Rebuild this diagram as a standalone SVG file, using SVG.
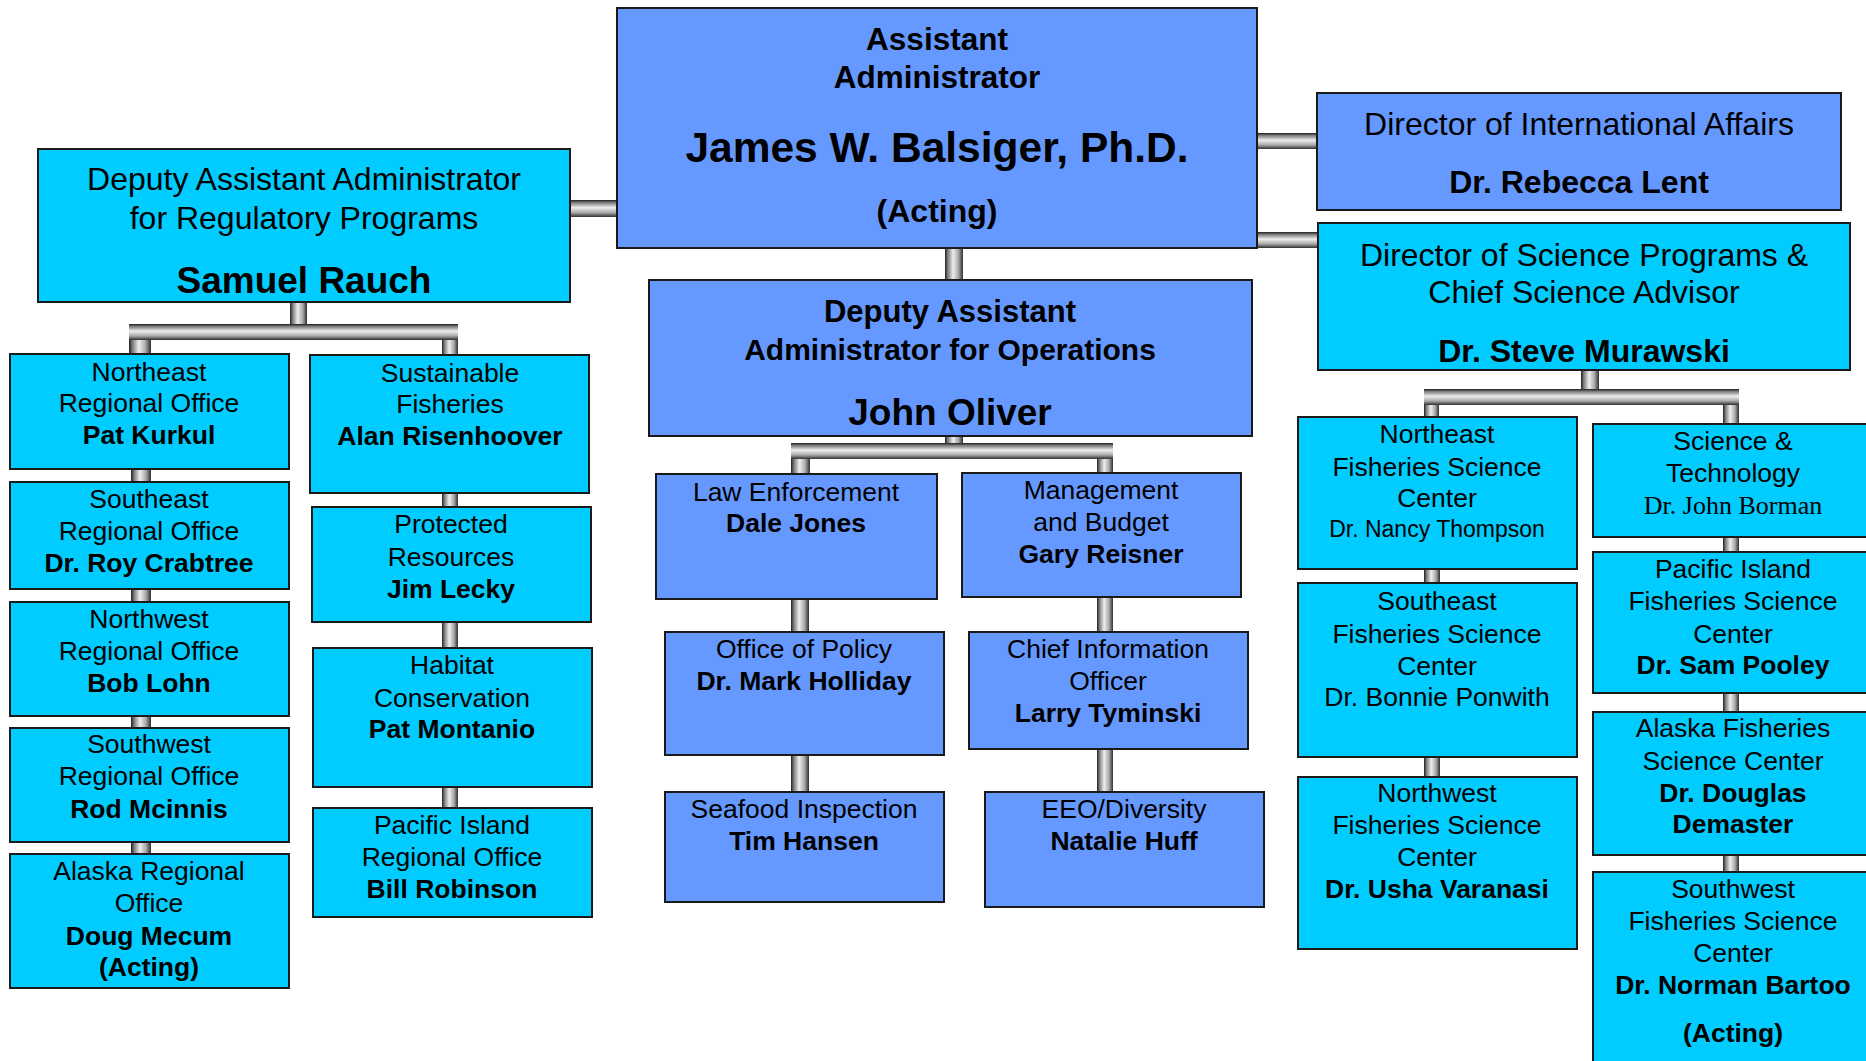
<svg xmlns="http://www.w3.org/2000/svg" width="1866" height="1061" viewBox="0 0 1866 1061">
<defs>
<linearGradient id="gv" x1="0" y1="0" x2="1" y2="0">
<stop offset="0" stop-color="#1e1e1e"/><stop offset="0.15" stop-color="#7a7a7a"/><stop offset="0.45" stop-color="#eeeeee"/><stop offset="0.75" stop-color="#a8a8a8"/><stop offset="1" stop-color="#2e2e2e"/>
</linearGradient>
<linearGradient id="gh" x1="0" y1="0" x2="0" y2="1">
<stop offset="0" stop-color="#1e1e1e"/><stop offset="0.15" stop-color="#7a7a7a"/><stop offset="0.45" stop-color="#eeeeee"/><stop offset="0.75" stop-color="#a8a8a8"/><stop offset="1" stop-color="#2e2e2e"/>
</linearGradient>
</defs>
<style>
.pv{fill:url(#gv)}
.ph{fill:url(#gh)}
.c{fill:#00CCFF;stroke:#1a1a1a;stroke-width:2}
.b{fill:#6699FF;stroke:#1a1a1a;stroke-width:2}
text{font-family:"Liberation Sans",Arial,sans-serif;fill:#000;text-anchor:middle}
.r32{font-size:32px}
.b32{font-size:32px;font-weight:bold}
.b37{font-size:37px;font-weight:bold}
.s{font-size:26.5px}
.sb{font-size:26.5px;font-weight:bold}
</style>
<rect width="1866" height="1061" fill="#fff"/>
<g id="connectors">
<rect class="ph" x="570" y="200" width="47" height="17"/>
<rect class="ph" x="1257" y="133" width="60" height="16"/>
<rect class="ph" x="1257" y="232" width="61" height="16"/>
<rect class="pv" x="290" y="302" width="17" height="26"/>
<rect class="pv" x="129" y="324" width="22" height="30"/>
<rect class="pv" x="442" y="324" width="16" height="31"/>
<rect class="ph" x="129" y="324" width="329" height="16"/>
<rect class="pv" x="131" y="469" width="20" height="13"/>
<rect class="pv" x="131" y="589" width="20" height="13"/>
<rect class="pv" x="131" y="716" width="20" height="12"/>
<rect class="pv" x="131" y="842" width="20" height="12"/>
<rect class="pv" x="442" y="493" width="16" height="14"/>
<rect class="pv" x="442" y="622" width="16" height="26"/>
<rect class="pv" x="442" y="787" width="16" height="21"/>
<rect class="pv" x="945" y="248" width="18" height="32"/>
<rect class="pv" x="945" y="436" width="18" height="12"/>
<rect class="pv" x="791" y="443" width="19" height="31"/>
<rect class="pv" x="1097" y="443" width="16" height="30"/>
<rect class="ph" x="791" y="443" width="322" height="16"/>
<rect class="pv" x="791" y="599" width="18" height="33"/>
<rect class="pv" x="791" y="755" width="18" height="37"/>
<rect class="pv" x="1097" y="597" width="16" height="35"/>
<rect class="pv" x="1097" y="749" width="16" height="43"/>
<rect class="pv" x="1581" y="370" width="18" height="22"/>
<rect class="pv" x="1424" y="389" width="15" height="28"/>
<rect class="pv" x="1723" y="389" width="16" height="35"/>
<rect class="ph" x="1424" y="389" width="315" height="16"/>
<rect class="pv" x="1424" y="569" width="16" height="14"/>
<rect class="pv" x="1424" y="757" width="16" height="20"/>
<rect class="pv" x="1723" y="537" width="16" height="15"/>
<rect class="pv" x="1723" y="693" width="16" height="19"/>
<rect class="pv" x="1723" y="855" width="16" height="17"/>
</g>
<g id="aa"><rect class="b" x="617" y="8" width="640" height="240"/>
<text x="937" y="50" style="font-size:31.5px;font-weight:bold">Assistant</text>
<text x="937" y="88" style="font-size:31.5px;font-weight:bold">Administrator</text>
<text x="937" y="162" style="font-size:42.5px;font-weight:bold">James W. Balsiger, Ph.D.</text>
<text x="937" y="222" class="b32">(Acting)</text></g>
<g id="regulatory"><rect class="c" x="38" y="149" width="532" height="153"/>
<text x="304" y="190" class="r32">Deputy Assistant Administrator</text>
<text x="304" y="229" class="r32">for Regulatory Programs</text>
<text x="304" y="293" class="b37">Samuel Rauch</text></g>
<g id="intl"><rect class="b" x="1317" y="93" width="524" height="117"/>
<text x="1579" y="135" class="r32">Director of International Affairs</text>
<text x="1579" y="193" class="b32">Dr. Rebecca Lent</text></g>
<g id="science"><rect class="c" x="1318" y="223" width="532" height="147"/>
<text x="1584" y="266" class="r32">Director of Science Programs &amp;</text>
<text x="1584" y="303" class="r32">Chief Science Advisor</text>
<text x="1584" y="362" class="b32">Dr. Steve Murawski</text></g>
<g id="operations"><rect class="b" x="649" y="280" width="603" height="156"/>
<text x="950" y="322" style="font-size:31px;font-weight:bold">Deputy Assistant</text>
<text x="950" y="360" style="font-size:30px;font-weight:bold">Administrator for Operations</text>
<text x="950" y="425" class="b37">John Oliver</text></g>
<g id="ne-regional"><rect class="c" x="10" y="354" width="279" height="115"/>
<text x="149" y="381" class="s">Northeast</text><text x="149" y="412" class="s">Regional Office</text><text x="149" y="444" class="sb">Pat Kurkul</text></g>
<g id="se-regional"><rect class="c" x="10" y="482" width="279" height="107"/>
<text x="149" y="508" class="s">Southeast</text><text x="149" y="540" class="s">Regional Office</text><text x="149" y="572" class="sb">Dr. Roy Crabtree</text></g>
<g id="nw-regional"><rect class="c" x="10" y="602" width="279" height="114"/>
<text x="149" y="628" class="s">Northwest</text><text x="149" y="660" class="s">Regional Office</text><text x="149" y="692" class="sb">Bob Lohn</text></g>
<g id="sw-regional"><rect class="c" x="10" y="728" width="279" height="114"/>
<text x="149" y="753" class="s">Southwest</text><text x="149" y="785" class="s">Regional Office</text><text x="149" y="818" class="sb">Rod Mcinnis</text></g>
<g id="ak-regional"><rect class="c" x="10" y="854" width="279" height="134"/>
<text x="149" y="880" class="s">Alaska Regional</text><text x="149" y="912" class="s">Office</text><text x="149" y="945" class="sb">Doug Mecum</text><text x="149" y="976" class="sb">(Acting)</text></g>
<g id="sustainable"><rect class="c" x="310" y="355" width="279" height="138"/>
<text x="450" y="382" class="s">Sustainable</text><text x="450" y="413" class="s">Fisheries</text><text x="450" y="445" class="sb">Alan Risenhoover</text></g>
<g id="protected"><rect class="c" x="312" y="507" width="279" height="115"/>
<text x="451" y="533" class="s">Protected</text><text x="451" y="566" class="s">Resources</text><text x="451" y="598" class="sb">Jim Lecky</text></g>
<g id="habitat"><rect class="c" x="313" y="648" width="279" height="139"/>
<text x="452" y="674" class="s">Habitat</text><text x="452" y="707" class="s">Conservation</text><text x="452" y="738" class="sb">Pat Montanio</text></g>
<g id="pi-regional"><rect class="c" x="313" y="808" width="279" height="109"/>
<text x="452" y="834" class="s">Pacific Island</text><text x="452" y="866" class="s">Regional Office</text><text x="452" y="898" class="sb">Bill Robinson</text></g>
<g id="law"><rect class="b" x="656" y="474" width="281" height="125"/>
<text x="796" y="501" class="s">Law Enforcement</text><text x="796" y="532" class="sb">Dale Jones</text></g>
<g id="mgmt"><rect class="b" x="962" y="473" width="279" height="124"/>
<text x="1101" y="499" class="s">Management</text><text x="1101" y="531" class="s">and Budget</text><text x="1101" y="563" class="sb">Gary Reisner</text></g>
<g id="policy"><rect class="b" x="665" y="632" width="279" height="123"/>
<text x="804" y="658" class="s">Office of Policy</text><text x="804" y="690" class="sb">Dr. Mark Holliday</text></g>
<g id="cio"><rect class="b" x="969" y="632" width="279" height="117"/>
<text x="1108" y="658" class="s">Chief Information</text><text x="1108" y="690" class="s">Officer</text><text x="1108" y="722" class="sb">Larry Tyminski</text></g>
<g id="seafood"><rect class="b" x="665" y="792" width="279" height="110"/>
<text x="804" y="818" class="s">Seafood Inspection</text><text x="804" y="850" class="sb">Tim Hansen</text></g>
<g id="eeo"><rect class="b" x="985" y="792" width="279" height="115"/>
<text x="1124" y="818" class="s">EEO/Diversity</text><text x="1124" y="850" class="sb">Natalie Huff</text></g>
<g id="ne-fsc"><rect class="c" x="1298" y="417" width="279" height="152"/>
<text x="1437" y="443" class="s">Northeast</text><text x="1437" y="476" class="s">Fisheries Science</text><text x="1437" y="507" class="s">Center</text><text x="1437" y="537" style="font-size:23px">Dr. Nancy Thompson</text></g>
<g id="se-fsc"><rect class="c" x="1298" y="583" width="279" height="174"/>
<text x="1437" y="610" class="s">Southeast</text><text x="1437" y="643" class="s">Fisheries Science</text><text x="1437" y="675" class="s">Center</text><text x="1437" y="706" class="s">Dr. Bonnie Ponwith</text></g>
<g id="nw-fsc"><rect class="c" x="1298" y="777" width="279" height="172"/>
<text x="1437" y="802" class="s">Northwest</text><text x="1437" y="834" class="s">Fisheries Science</text><text x="1437" y="866" class="s">Center</text><text x="1437" y="898" class="sb">Dr. Usha Varanasi</text></g>
<g id="st"><rect class="c" x="1593" y="424" width="280" height="113"/>
<text x="1733" y="450" class="s">Science &amp;</text><text x="1733" y="482" class="s">Technology</text><text x="1733" y="514" style="font-family:'Liberation Serif','Times New Roman',serif;font-size:26px">Dr. John Borman</text></g>
<g id="pi-fsc"><rect class="c" x="1593" y="552" width="280" height="141"/>
<text x="1733" y="578" class="s">Pacific Island</text><text x="1733" y="610" class="s">Fisheries Science</text><text x="1733" y="643" class="s">Center</text><text x="1733" y="674" class="sb">Dr. Sam Pooley</text></g>
<g id="ak-fsc"><rect class="c" x="1593" y="712" width="280" height="143"/>
<text x="1733" y="737" class="s">Alaska Fisheries</text><text x="1733" y="770" class="s">Science Center</text><text x="1733" y="802" class="sb">Dr. Douglas</text><text x="1733" y="833" class="sb">Demaster</text></g>
<g id="sw-fsc"><rect class="c" x="1593" y="872" width="280" height="200"/>
<text x="1733" y="898" class="s">Southwest</text><text x="1733" y="930" class="s">Fisheries Science</text><text x="1733" y="962" class="s">Center</text><text x="1733" y="994" class="sb">Dr. Norman Bartoo</text><text x="1733" y="1042" class="sb">(Acting)</text></g>
</svg>
